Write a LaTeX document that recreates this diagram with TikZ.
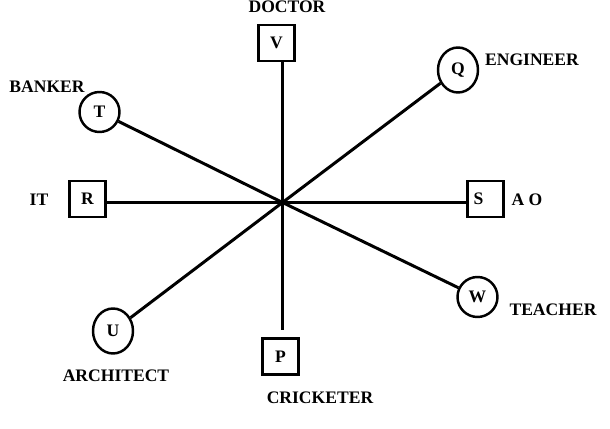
\documentclass[tikz,border=0pt]{standalone}
\usepackage{fontspec}
\setmainfont{Liberation Serif}
\usetikzlibrary{shapes.geometric}

\begin{document}
\begin{tikzpicture}[x=0.02cm, y=-0.02cm,
  font=\fontsize{10}{12}\selectfont\bfseries,
  seat/.style={draw, line width=1.5pt, minimum size=0.72cm, inner sep=0pt},
  person/.style={draw, line width=1.4pt, circle, minimum size=0.8cm, inner sep=0pt},
  oval/.style={draw, line width=1.4pt, ellipse, minimum width=0.8cm, minimum height=0.9cm, inner sep=0pt},
  spoke/.style={line width=1.7pt}]
  \useasboundingbox (0,0) rectangle (610,429);

  % Centre where all spokes meet
  \coordinate (O) at (282.5,202.5);

  % Square seats
  \node[seat] (V) at (276.5,43) {V};
  \node[seat] (R) at (87.5,199) {R};
  \node[seat] (S) at (485.5,199) {S\hspace*{0.28cm}};
  \node[seat] (P) at (280.5,356.5) {P};

  % Round seats
  \node[person] (T) at (99.5,112) {T};
  \node[oval] (Q) at (458,70) {Q};
  \node[person] (W) at (477.5,297) {W};
  \node[oval] (U) at (113,331) {U};

  % Spokes
  \draw[spoke] (O) -- (O |- V.south);
  \draw[spoke, shorten >=4pt] (O) -- (O |- P.north);
  \draw[spoke] (O) -- (O -| R.east);
  \draw[spoke] (O) -- (O -| S.west);
  \draw[spoke] (O) -- (T);
  \draw[spoke] (O) -- (Q);
  \draw[spoke] (O) -- (W);
  \draw[spoke] (O) -- (U);

  % Professions
  \node (doctor) at (287,7) {DOCTOR};
  \node (banker) at (47,87) {BANKER};
  \node (engineer) at (532,60) {ENGINEER};
  \node (it) at (39,200) {IT};
  \node (ao) at (527,200) {A O};
  \node (teacher) at (553,310) {TEACHER};
  \node (architect) at (116,376) {ARCHITECT};
  \node (cricketer) at (320,398) {CRICKETER};
\end{tikzpicture}
\end{document}
